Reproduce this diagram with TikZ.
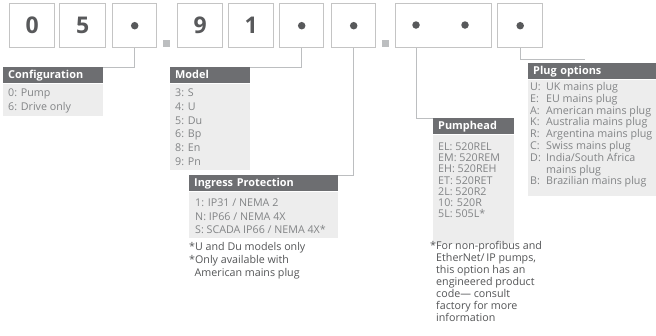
\documentclass[tikz,border=0pt]{standalone}
\usepackage{fontspec}
\setmainfont{Open Sans}
\usetikzlibrary{calc}
\definecolor{hdrc}{HTML}{6D6E71}
\definecolor{bodyc}{HTML}{EDEDED}
\definecolor{itemc}{HTML}{828486}
\definecolor{notec}{HTML}{545557}
\definecolor{framec}{HTML}{C4C4C4}
\definecolor{digitc}{HTML}{58595B}
\definecolor{connc}{HTML}{BCBEC0}
\begin{document}
\begin{tikzpicture}[x=1pt,y=-1pt,
 digitbox/.style={draw=framec, line width=1.4pt, fill=white, anchor=north west, minimum height=44pt, inner sep=0, text=digitc, font=\fontsize{23}{23}\selectfont\bfseries},
 dotmark/.style={circle, fill=digitc, inner sep=0, minimum size=7.5pt},
 sepsq/.style={fill=connc, inner sep=0, minimum size=7pt, anchor=north west},
 connector/.style={draw=connc, line width=1pt},
 hdrbox/.style={fill=hdrc, anchor=north west, inner xsep=5pt, inner ysep=0, minimum height=16pt, text height=7.9pt, text depth=2.2pt, align=left, text=white, font=\fontsize{10.9}{12}\selectfont\bfseries},
 bodybox/.style={fill=bodyc, anchor=north west, inner sep=0},
 itemtxt/.style={anchor=base west, inner sep=0, text=itemc, font=\fontsize{10.7}{12}\selectfont},
 notetxt/.style={anchor=base west, inner sep=0, text=notec, font=\fontsize{10.7}{12}\selectfont},
]
\useasboundingbox[fill=white] (0,0) rectangle (656,335);

% top code boxes
\node[digitbox, minimum width=45pt] (b1) at (9,3) {0};
\node[digitbox, minimum width=46pt] (b2) at (59,3) {5};
\node[digitbox, minimum width=44pt] (b3) at (112,3) {};
\node[sepsq] (s1) at (163,40) {};
\node[digitbox, minimum width=45pt] (b4) at (177,3) {9};
\node[digitbox, minimum width=45pt] (b5) at (228,3) {1};
\node[digitbox, minimum width=44pt] (b6) at (279,3) {};
\node[digitbox, minimum width=44pt] (b7) at (331,3) {};
\node[sepsq] (s2) at (382,40) {};
\node[digitbox, minimum width=96pt] (b8) at (395,3) {};
\node[digitbox, minimum width=45pt] (b9) at (497,3) {};

\node[dotmark] (d3) at (b3.center) {};
\node[dotmark] (d6) at (b6.center) {};
\node[dotmark] (d7) at (b7.center) {};
\node[dotmark] (d8a) at (416,25) {};
\node[dotmark] (d8b) at (465,25) {};
\node[dotmark] (d9) at (b9.center) {};

% Configuration
\node[hdrbox, text width=90pt] (cfgh) at (3,67) {Configuration};
\node[bodybox, minimum width=100pt, minimum height=32pt] (cfgb) at (cfgh.south west) {};
\foreach \t [count=\i from 0] in {0: Pump, 6: Drive only}
  \node[itemtxt] (cfg\i) at (8,96.5+14*\i) {\t};

% Model
\node[hdrbox, text width=70pt] (modh) at (170,67) {Model};
\node[bodybox, minimum width=80pt, minimum height=86pt] (modb) at (modh.south west) {};
\foreach \t [count=\i from 0] in {3: S, 4: U, 5: Du, 6: Bp, 8: En, 9: Pn}
  \node[itemtxt] (mod\i) at (175,96.5+13.8*\i) {\t};

% Ingress Protection
\node[hdrbox, text width=139pt] (ingh) at (189,175) {Ingress Protection};
\node[bodybox, minimum width=149pt, minimum height=46pt] (ingb) at (ingh.south west) {};
\foreach \t [count=\i from 0] in {1: IP31 / NEMA 2, N: IP66 / NEMA 4X, S: SCADA IP66 / NEMA 4X*}
  \node[itemtxt] (ing\i) at (195,206.5+13.5*\i) {\t};
\node[notetxt] (ingn1) at (189,250.5) {*U and Du models only};
\node[notetxt] (ingn2) at (189,263.5) {*Only available with};
\node[notetxt] (ingn3) at (194.5,276.5) {American mains plug};

% Pumphead
\node[hdrbox, text width=71pt] (pumh) at (433,118) {Pumphead};
\node[bodybox, minimum width=81pt, minimum height=109pt] (pumb) at (pumh.south west) {};
\foreach \t [count=\i from 0] in {EL: 520REL, EM: 520REM, EH: 520REH, ET: 520RET, 2L: 520R2, 10: 520R, 5L: 505L*}
  \node[itemtxt] (pum\i) at (438,150.5+11.2*\i) {\t};
\node[notetxt] (pumn0) at (430,249.5) {*For non-profibus and};
\foreach \t [count=\i from 1] in {{EtherNet/\,IP pumps,}, this option has an, engineered product, code--- consult, factory for more, information}
  \node[notetxt] (pumn\i) at (436,249.5+12*\i) {\t};

% Plug options
\node[hdrbox, text width=118pt] (plgh) at (528,63) {Plug options};
\node[bodybox, minimum width=128pt, minimum height=116pt] (plgb) at (plgh.south west) {};
\node[itemtxt] (pl1) at (530,90.5) {U:};
\node[itemtxt] (pt1) at (546,90.5) {UK mains plug};
\node[itemtxt] (pl2) at (530,102.3) {E:};
\node[itemtxt] (pt2) at (546,102.3) {EU mains plug};
\node[itemtxt] (pl3) at (530,114.1) {A:};
\node[itemtxt] (pt3) at (546,114.1) {American mains plug};
\node[itemtxt] (pl4) at (530,125.9) {K:};
\node[itemtxt] (pt4) at (546,125.9) {Australia mains plug};
\node[itemtxt] (pl5) at (530,137.7) {R:};
\node[itemtxt] (pt5) at (546,137.7) {Argentina mains plug};
\node[itemtxt] (pl6) at (530,149.5) {C:};
\node[itemtxt] (pt6) at (546,149.5) {Swiss mains plug};
\node[itemtxt] (pl7) at (530,161.3) {D:};
\node[itemtxt] (pt7) at (546,161.3) {India/South Africa};
\node[itemtxt] (pt7b) at (546,173.1) {mains plug};
\node[itemtxt] (pl8) at (530,184.9) {B:};
\node[itemtxt] (pt8) at (546,184.9) {Brazilian mains plug};

% connectors
\coordinate (plugend) at (585,59);
\draw[connector] (b3.south) |- (cfgh.north east);
\draw[connector] (b6.south) |- (modh.north east);
\draw[connector] (b7.south) |- (ingh.north east);
\draw[connector] (d8a |- b8.south) |- (pumh.north west);
\draw[connector] (b9.south) |- (plugend);
\end{tikzpicture}
\end{document}
